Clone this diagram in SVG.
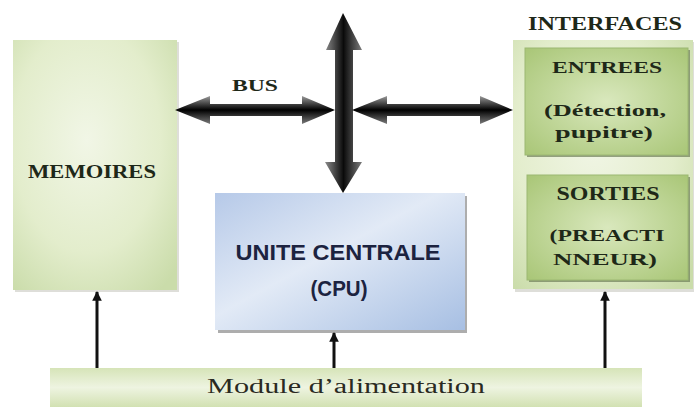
<svg xmlns="http://www.w3.org/2000/svg" width="694" height="407" viewBox="0 0 694 407">
<style>
.lbl{font-family:"Liberation Serif","Times New Roman",serif;font-weight:bold;fill:#1e2818;text-anchor:middle}
.cpu{font-family:"Liberation Sans",Arial,sans-serif;font-weight:bold;fill:#1c2340;text-anchor:middle}
.mod{font-family:"Liberation Serif","Times New Roman",serif;fill:#2a2a22;text-anchor:middle}
.pw{stroke:#111;stroke-width:3;fill:none;marker-end:url(#ah)}
</style>
<defs>
<radialGradient id="gLight" cx="0.45" cy="0.4" r="0.75">
<stop offset="0" stop-color="#f1f6e6"/><stop offset="0.6" stop-color="#e3edcc"/><stop offset="1" stop-color="#cadcaa"/>
</radialGradient>
<radialGradient id="gMid" cx="0.5" cy="0.5" r="0.7">
<stop offset="0" stop-color="#d9e8bd"/><stop offset="1" stop-color="#a9c677"/>
</radialGradient>
<linearGradient id="gBlue" x1="0" y1="0" x2="1" y2="1">
<stop offset="0" stop-color="#b6c9e8"/><stop offset="0.45" stop-color="#e2eaf6"/><stop offset="1" stop-color="#a7bfe3"/>
</linearGradient>
<linearGradient id="gMod" x1="0" y1="0" x2="0" y2="1">
<stop offset="0" stop-color="#d6e4b8"/><stop offset="0.5" stop-color="#eef4e1"/><stop offset="1" stop-color="#d2e1b2"/>
</linearGradient>
<linearGradient id="gH" x1="0" y1="0" x2="0" y2="1">
<stop offset="0" stop-color="#9a9a9a"/><stop offset="0.5" stop-color="#000"/><stop offset="1" stop-color="#7a7a7a"/>
</linearGradient>
<linearGradient id="gV" x1="0" y1="0" x2="1" y2="0">
<stop offset="0" stop-color="#8c8c8c"/><stop offset="0.5" stop-color="#0a0a0a"/><stop offset="1" stop-color="#7c7c7c"/>
</linearGradient>
<marker id="ah" viewBox="0 0 10 10" refX="9" refY="5" markerWidth="3.2" markerHeight="3.2" orient="auto">
<path d="M0,0 L10,5 L0,10 z" fill="#111"/>
</marker>
</defs>
<g id="memoires">
<rect x="15" y="42" width="164" height="250" fill="#c8c8c0" opacity="0.6"/>
<rect x="13" y="40" width="164" height="250" fill="url(#gLight)"/>
<text class="lbl" x="92" y="178" font-size="19" textLength="128" lengthAdjust="spacingAndGlyphs">MEMOIRES</text>
</g>
<g id="interfaces">
<text class="lbl" x="605" y="30" font-size="18" textLength="154" lengthAdjust="spacingAndGlyphs">INTERFACES</text>
<rect x="515" y="42" width="179" height="250" fill="#c8c8c0" opacity="0.6"/>
<rect x="513" y="40" width="180" height="249" fill="url(#gLight)"/>
</g>
<g id="entrees">
<rect x="527" y="50" width="163" height="107" fill="#6e7e58" opacity="0.7"/>
<rect x="525" y="48" width="163" height="107" fill="url(#gMid)" stroke="#9cb872" stroke-width="1"/>
<text class="lbl" x="607" y="73" font-size="17" textLength="110" lengthAdjust="spacingAndGlyphs">ENTREES</text>
<text class="lbl" x="605" y="116" font-size="17" textLength="122" lengthAdjust="spacingAndGlyphs">(Détection,</text>
<text class="lbl" x="604" y="138" font-size="17" textLength="98" lengthAdjust="spacingAndGlyphs">pupitre)</text>
</g>
<g id="sorties">
<rect x="529" y="177" width="161" height="105" fill="#6e7e58" opacity="0.7"/>
<rect x="527" y="175" width="161" height="105" fill="url(#gMid)" stroke="#9cb872" stroke-width="1"/>
<text class="lbl" x="608" y="200" font-size="18" textLength="103" lengthAdjust="spacingAndGlyphs">SORTIES</text>
<text class="lbl" x="607" y="241" font-size="17" textLength="115" lengthAdjust="spacingAndGlyphs">(PREACTI</text>
<text class="lbl" x="605" y="265" font-size="17" textLength="104" lengthAdjust="spacingAndGlyphs">NNEUR)</text>
</g>
<g id="cpu">
<rect x="218" y="196" width="249" height="137" fill="#8a8a8a" opacity="0.7"/>
<rect x="215" y="193" width="250" height="137" fill="url(#gBlue)"/>
<text class="cpu" x="338" y="260" font-size="22" textLength="205" lengthAdjust="spacingAndGlyphs">UNITE CENTRALE</text>
<text class="cpu" x="339" y="296" font-size="22" textLength="57" lengthAdjust="spacingAndGlyphs">(CPU)</text>
</g>
<g id="alimentation">
<rect x="50" y="368" width="592" height="39" fill="url(#gMod)"/>
<text class="mod" x="346" y="393" font-size="20" textLength="278" lengthAdjust="spacingAndGlyphs">Module d’alimentation</text>
</g>
<g id="connectors">
<polygon points="343,13 362,50 353,50 353,162 362,162 343,193 325,162 335,162 335,50 326,50" fill="url(#gV)"/>
<polygon points="175,110 210,96 210,104 302,104 302,96 335,110 302,124 302,116 210,116 210,124" fill="url(#gH)"/>
<polygon points="352,110 387,96 387,104 480,104 480,96 513,110 480,124 480,116 387,116 387,124" fill="url(#gH)"/>
<text class="lbl" x="255" y="91" font-size="16" textLength="46" lengthAdjust="spacingAndGlyphs">BUS</text>
<line class="pw" x1="97" y1="368" x2="97" y2="292"/>
<line class="pw" x1="334" y1="368" x2="334" y2="333"/>
<line class="pw" x1="605" y1="368" x2="605" y2="292"/>
</g>
</svg>
